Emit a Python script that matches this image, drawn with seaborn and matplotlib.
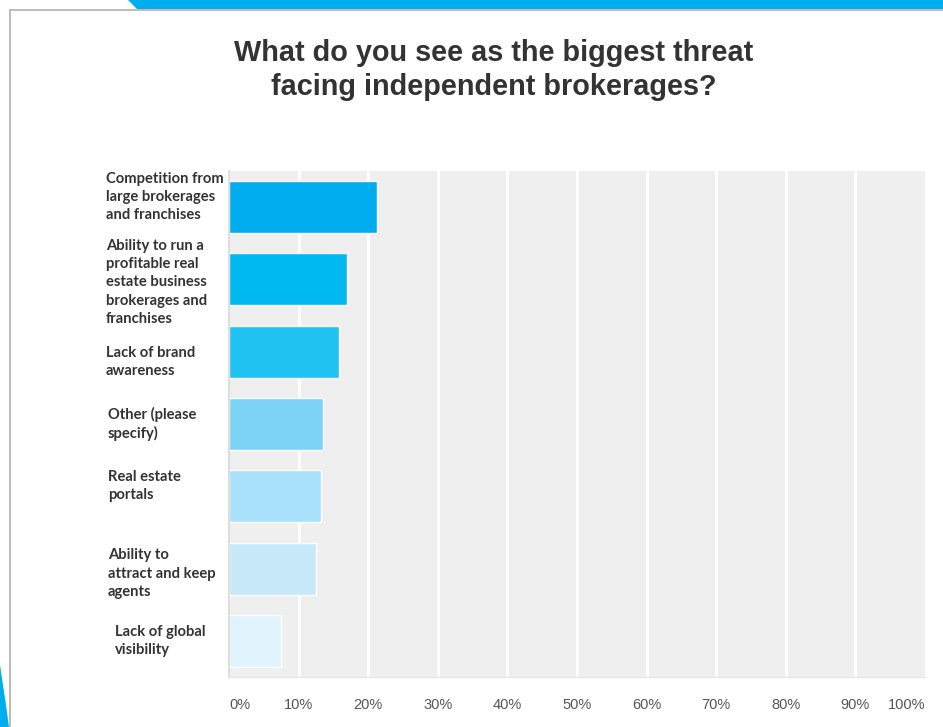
import matplotlib
matplotlib.use("Agg")
import matplotlib.pyplot as plt
from matplotlib.patches import Polygon, Rectangle
from matplotlib.transforms import ScaledTranslation, blended_transform_factory
import seaborn as sns
import pandas as pd

# Survey answers and share of respondents (%)
categories = [
    "Competition from\nlarge brokerages\nand franchises",
    "Ability to run a\nprofitable real\nestate business\nbrokerages and\nfranchises",
    "Lack of brand\nawareness",
    "Other (please\nspecify)",
    "Real estate\nportals",
    "Ability to\nattract and keep\nagents",
    "Lack of global\nvisibility",
]
shares = [21.3, 17.0, 15.8, 13.5, 13.2, 12.5, 7.5]
tick_values = [0, 10, 20, 30, 40, 50, 60, 70, 80, 90, 100]
tick_labels = ["0%", "10%", "20%", "30%", "40%", "50%", "60%", "70%", "80%", "90%", "100%"]
bar_colors = ["#00AEEF", "#00B9F1", "#20C3F1", "#7DD3F6", "#A9E1FA", "#C7E9F8", "#E1F3FC"]

# label placement: left edge (px) and vertical nudge (px, positive = up)
label_left_px = [106, 106, 106, 108, 108, 108, 115]
label_nudge_px = [10, -3, -10, 0, 10, -5, 0]

df = pd.DataFrame({"answer": categories, "share": shares})

sns.set_theme(style="white")
plt.rcParams["font.family"] = ["Liberation Sans", "DejaVu Sans"]

W, H = 943, 727
fig = plt.figure(figsize=(W / 100, H / 100), dpi=100)
fig.patch.set_facecolor("white")

# page frame: grey border with blue accents
fig.add_artist(Rectangle((9 / W, 0), 2 / W, 1 - 9 / H, transform=fig.transFigure,
                         color="#bcbcbc", lw=0))
fig.add_artist(Rectangle((9 / W, 1 - 11 / H), 1 - 9 / W, 2 / H, transform=fig.transFigure,
                         color="#bcbcbc", lw=0))
fig.add_artist(Polygon([(128 / W, 1), (1, 1), (1, 1 - 9 / H), (137 / W, 1 - 9 / H)],
                       closed=True, transform=fig.transFigure, color="#00AEEF", lw=0))
fig.add_artist(Polygon([(0, 1 - 665 / H), (3 / W, 1 - 685 / H), (6 / W, 1 - 705 / H),
                        (9 / W, 0), (0, 0)],
                       closed=True, transform=fig.transFigure, color="#00AEEF", lw=0))

left, right, top, bottom = 229, 925, 171, 677
ax = fig.add_axes([left / W, 1 - bottom / H, (right - left) / W, (bottom - top) / H])
ax.set_facecolor("#efefef")

sns.barplot(data=df, x="share", y="answer", hue="answer", palette=bar_colors,
            orient="h", width=0.72, legend=False, ax=ax, saturation=1)

ax.set_xlim(0, 100)
ax.set_ylim(len(categories) - 0.5, -0.5)
ax.set_xlabel("")
ax.set_ylabel("")

# white vertical gridlines
for v in tick_values[1:-1]:
    ax.axvline(v, color="white", lw=2, zorder=0.5)

for s in ["top", "right"]:
    ax.spines[s].set_visible(False)
ax.spines["left"].set_color("#d9d9d9")
ax.spines["left"].set_linewidth(1.2)
ax.spines["bottom"].set_color("#e6e6e6")
ax.spines["bottom"].set_linewidth(1.0)

ax.set_xticks(tick_values)
ax.set_xticklabels(tick_labels, fontsize=10.5, color="#555555")
ax.tick_params(axis="x", length=0, pad=15)
xl = ax.get_xticklabels()
xl[0].set_horizontalalignment("left")
xl[-1].set_horizontalalignment("right")

# category labels, left-aligned in the margin
ax.set_yticks(range(len(categories)))
ax.set_yticklabels([])
ax.tick_params(axis="y", length=0)
base = blended_transform_factory(fig.transFigure, ax.transData)
for i, (txt, lx, dy) in enumerate(zip(categories, label_left_px, label_nudge_px)):
    tr = base + ScaledTranslation(0, dy / 100, fig.dpi_scale_trans)
    ax.text(lx / W, i, txt, transform=tr, ha="left", va="center",
            fontfamily=["Lato", "DejaVu Sans"], fontweight="bold", fontsize=10.6,
            color="#333333", linespacing=1.38, clip_on=False)

fig.text(494 / W, 1 - 70 / H,
         "What do you see as the biggest threat\nfacing independent brokerages?",
         ha="center", va="center", fontsize=20.8, fontweight="bold",
         color="#333333", linespacing=1.3)

fig.savefig("out.png", dpi=100)
